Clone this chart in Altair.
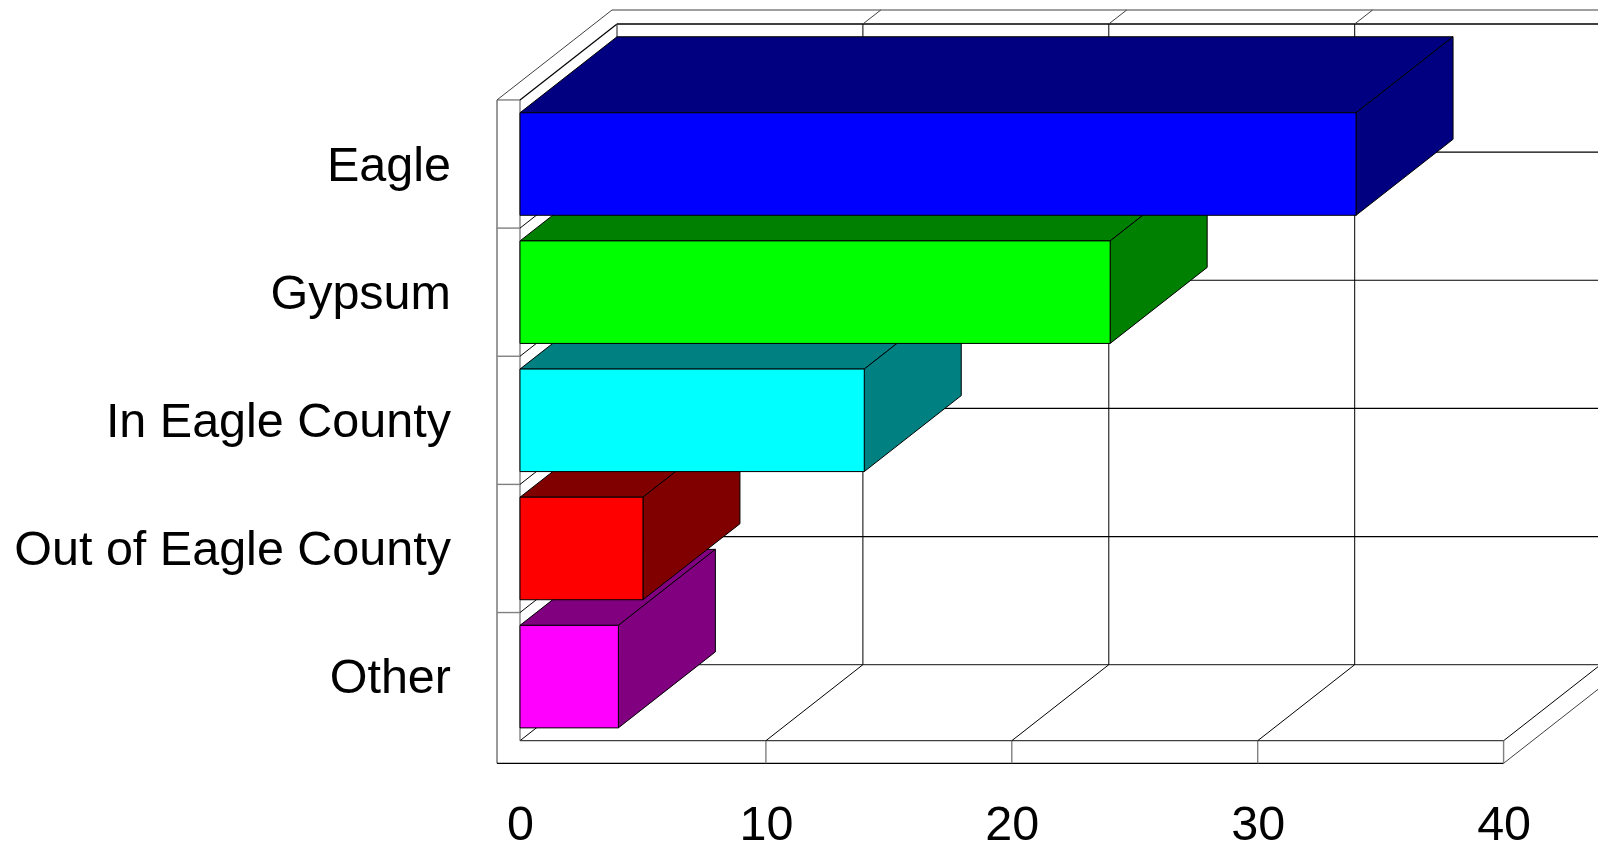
import altair as alt
import pandas as pd

categories = ["Other", "Out of Eagle County", "In Eagle County", "Gypsum", "Eagle"]
values = [4, 5, 14, 24, 34]
front_colors = ["#FF00FF", "#FF0000", "#00FFFF", "#00FF00", "#0000FF"]
side_colors = ["#800080", "#800000", "#008080", "#008000", "#000080"]
x_ticks = [0, 10, 20, 30, 40]

# Pixel geometry of the oblique projection, expressed as scale settings
W, H = 1590, 835
PX_X, PX_Y = 24.59, 128.15
X0_PX, Y0_PX = 512.0, 732.7
x_dom = [-X0_PX / PX_X, (W - X0_PX) / PX_X]
y_dom = [-(H - Y0_PX) / PX_Y, Y0_PX / PX_Y]

DX, DY = 97 / PX_X, 76 / PX_Y        # depth vector
WX, FY = -23 / PX_X, -22.6 / PX_Y    # wall thickness
OX, OY = 92 / PX_X, 730.7 / PX_Y     # outer back corner
SX, SY = 18 / PX_X, 14 / PX_Y        # stub beyond the back wall
N = len(categories)
XMAX = x_ticks[-1]
GREY, BLACK, DARK = "#808080", "#000000", "#404040"
FONT_SIZE = 48.5

segs = []
def seg(x, y, x2, y2, c=BLACK, w=1.0):
    segs.append(dict(x=x, y=y, x2=x2, y2=y2, c=c, w=w))

# left wall
seg(WX, FY, WX, N, GREY, 1.6)
seg(0, 0, 0, N, GREY, 1.4)
seg(WX, N, 0, N, GREY, 1.4)
seg(WX, N, OX, OY, DARK, 1)
seg(0, N, DX, N + DY, BLACK, 1.2)
seg(DX, DY, DX, N + DY, DARK, 1.2)
# outer top, back-wall top
seg(OX, OY, x_dom[1] + 1, OY, GREY, 1.4)
seg(DX, N + DY, XMAX + DX, N + DY, DARK, 2)
# level lines
for k in range(N):
    seg(DX, k + DY, XMAX + DX, k + DY, BLACK if k else DARK, 1.2)
    seg(0, k, DX, k + DY, BLACK, 1)
    if k:
        seg(WX, k, 0, k, GREY, 1.4)
for k in range(1, N + 1):
    seg(XMAX + DX, k + DY, XMAX + DX + SX, k + DY + SY, BLACK, 1)
# floor
seg(0, 0, XMAX, 0, DARK, 1.2)
seg(WX, FY, XMAX, FY, BLACK, 1.2)
seg(XMAX, FY, XMAX + DX * 1.2, FY + DY * 1.2, DARK, 1)
for t in x_ticks[1:]:
    seg(t, FY, t, 0, GREY, 1.4)
    seg(t, 0, t + DX, DY, BLACK, 1)
    seg(t + DX, DY, t + DX, N + DY, DARK if t == XMAX else BLACK, 1.4 if t == XMAX else 1)
    seg(t + DX, N + DY, t + DX + SX, N + DY + SY, DARK, 1)

xs = alt.Scale(domain=x_dom, nice=False, zero=False)
ys = alt.Scale(domain=y_dom, nice=False, zero=False)
label_expr = "[" + ",".join(f"'{c}'" for c in categories) + "][floor(datum.value)]"
x_axis = alt.Axis(values=x_ticks, format="d", grid=False, domain=False, ticks=False,
                  labelFontSize=FONT_SIZE, labelFont="Liberation Sans", labelColor="black",
                  labelBaseline="alphabetic", labelPadding=0, offset=-4, labelFlush=False,
                  labelOverlap=False, labelAngle=0)
y_axis = alt.Axis(values=[i + 0.5 for i in range(N)], labelExpr=label_expr, grid=False,
                  domain=False, ticks=False, labelFontSize=FONT_SIZE, labelFont="Liberation Sans",
                  labelColor="black", labelBaseline="alphabetic", labelOffset=16,
                  labelPadding=0, offset=-442.5, labelFlush=False, labelOverlap=False,
                  labelLimit=600)
X = alt.X("x:Q", scale=xs, axis=x_axis, title=None)
Y = alt.Y("y:Q", scale=ys, axis=y_axis, title=None)

frame = (
    alt.Chart(pd.DataFrame(segs))
    .mark_rule(clip=True)
    .encode(
        x=X, x2="x2:Q", y=Y, y2="y2:Q",
        color=alt.Color("c:N", scale=None),
        strokeWidth=alt.StrokeWidth("w:Q", scale=None),
    )
)

layers = [frame]
PAD = 0.1
for i, (cat, v, fc, sc) in enumerate(zip(categories, values, front_colors, side_colors)):
    lo, hi = i + PAD, i + 1 - PAD
    top = pd.DataFrame({"x": [0, DX], "x2": [v, v + DX], "y": [hi, hi + DY]})
    side = pd.DataFrame({"x": [v, v + DX], "y": [hi, hi + DY], "y2": [lo, lo + DY]})
    front = pd.DataFrame({"x": [0], "x2": [v], "y": [lo], "y2": [hi], "cat": [cat]})
    layers.append(
        alt.Chart(top).mark_area(orient="horizontal", color=sc, stroke="black", strokeWidth=1)
        .encode(x=X, x2="x2:Q", y=Y)
    )
    layers.append(
        alt.Chart(side).mark_area(orient="vertical", color=sc, stroke="black", strokeWidth=1)
        .encode(x=X, y=Y, y2="y2:Q")
    )
    layers.append(
        alt.Chart(front).mark_rect(color=fc, stroke="black", strokeWidth=1)
        .encode(x=X, x2="x2:Q", y=Y, y2="y2:Q")
    )

chart = (
    alt.layer(*layers)
    .properties(width=W, height=H, padding=0, autosize=alt.AutoSizeParams(type="none"),
                background="white")
    .configure_view(stroke=None)
)
chart.save("out.html", embed_options={"renderer": "svg", "actions": False})
